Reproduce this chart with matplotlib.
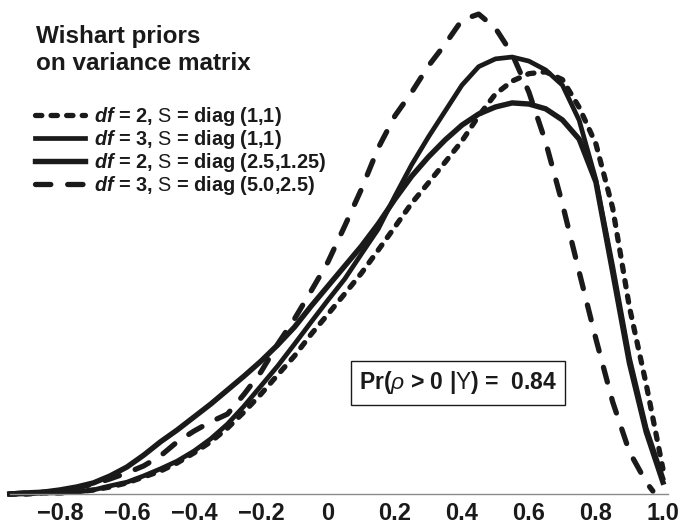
import numpy as np
import matplotlib
matplotlib.use("Agg")
import matplotlib.pyplot as plt

## posterior density of rho under 4 Wishart priors

plt.rcParams['font.family'] = 'Liberation Sans'
plt.rcParams['mathtext.fontset'] = 'custom'
plt.rcParams['mathtext.rm'] = 'Liberation Sans'
plt.rcParams['mathtext.it'] = 'Liberation Sans:italic'
plt.rcParams['mathtext.bf'] = 'Liberation Sans:bold'
plt.rcParams['mathtext.bfit'] = 'Liberation Sans:bold:italic'

rho = np.linspace(-0.95, 1.0, 40)
rho_d = np.append(rho[:-1], 0.97)

dens_df2_s1 = [0, 0, 0.003, 0.003, 0.005, 0.011, 0.019, 0.030, 0.046, 0.062,
               0.084, 0.111, 0.141, 0.178, 0.222, 0.270, 0.322, 0.373, 0.432, 0.486,
               0.541, 0.597, 0.659, 0.722, 0.786, 0.841, 0.897, 0.954, 1.022, 1.081,
               1.116, 1.136, 1.141, 1.120, 1.045, 0.946, 0.773, 0.505, 0.297, 0.068]
dens_df3_s1 = [0, 0, 0.003, 0.003, 0.005, 0.011, 0.022, 0.032, 0.049, 0.068,
               0.089, 0.116, 0.149, 0.189, 0.238, 0.292, 0.346, 0.405, 0.465, 0.524,
               0.581, 0.649, 0.716, 0.805, 0.890, 0.965, 1.035, 1.105, 1.155, 1.176,
               1.181, 1.170, 1.146, 1.105, 1.010, 0.849, 0.616, 0.368, 0.178, 0.043]
dens_df2_s25 = [0.000, 0.003, 0.005, 0.011, 0.019, 0.030, 0.049, 0.073, 0.105, 0.141,
                0.173, 0.208, 0.243, 0.281, 0.319, 0.359, 0.403, 0.451, 0.508, 0.562,
                0.616, 0.670, 0.730, 0.797, 0.859, 0.911, 0.957, 0.997, 1.027, 1.046,
                1.057, 1.054, 1.041, 1.011, 0.959, 0.843, 0.600, 0.354, 0.168, 0.032]
dens_df3_s5 = [0.000, 0.003, 0.005, 0.008, 0.016, 0.027, 0.041, 0.057, 0.076, 0.103,
               0.141, 0.170, 0.195, 0.216, 0.270, 0.330, 0.405, 0.473, 0.549, 0.627,
               0.724, 0.824, 0.935, 1.022, 1.086, 1.157, 1.216, 1.281, 1.297, 1.259,
               1.189, 1.086, 0.951, 0.784, 0.600, 0.419, 0.249, 0.114, 0.032, 0.008]

labels = [r"$\mathbfit{df}$ = 2, $\mathrm{S}$ = diag (1,1)",
          r"$\mathbfit{df}$ = 3, $\mathrm{S}$ = diag (1,1)",
          r"$\mathbfit{df}$ = 2, $\mathrm{S}$ = diag (2.5,1.25)",
          r"$\mathbfit{df}$ = 3, $\mathrm{S}$ = diag (5.0,2.5)"]
tick_vals = [-0.8, -0.6, -0.4, -0.2, 0, 0.2, 0.4, 0.6, 0.8, 1.0]
tick_labels = ["\u22120.8", "\u22120.6", "\u22120.4", "\u22120.2", "0", "0.2", "0.4", "0.6", "0.8", "1.0"]

fig = plt.figure(figsize=(6.8, 5.25), dpi=100)
ax = fig.add_axes([0, 25/525, 1, 500/525])

ink = '#1a1a1a'
l1, = ax.plot(rho, dens_df2_s1, color=ink, lw=3.8, dashes=(1.2, 1.75), dash_capstyle='round', label=labels[0])
l2, = ax.plot(rho, dens_df3_s1, color=ink, lw=3.4, label=labels[1])
l3, = ax.plot(rho, dens_df2_s25, color=ink, lw=3.9, label=labels[2])
l4, = ax.plot(rho_d, dens_df3_s5, color=ink, lw=3.8, dashes=(2.9, 3.2), dash_capstyle='round', label=labels[3])

ax.set_xlim(-0.979, 1.051)
ax.set_ylim(-6/370, 494/370)

for s in ['left', 'top', 'right']:
    ax.spines[s].set_visible(False)
ax.spines['bottom'].set_position(('data', 0))
ax.spines['bottom'].set_bounds(-0.95, 1.015)
ax.spines['bottom'].set_color('#8a8a8a')
ax.spines['bottom'].set_linewidth(1.0)
ax.set_yticks([])
ax.set_xticks(tick_vals)
ax.set_xticklabels(tick_labels, fontsize=17, fontweight='bold', color=ink)
ax.tick_params(axis='x', length=0, pad=6)
ax.patch.set_visible(False)

fig.text(36/680, 1 - 25/525, "Wishart priors\non variance matrix", fontsize=17.5,
         fontweight='bold', color=ink, va='top', ha='left', linespacing=1.2)

leg = ax.legend(handles=[l1, l2, l3, l4], loc='upper left', bbox_to_anchor=(35/680, 1 - 105/525),
                bbox_transform=fig.transFigure, frameon=False, prop={'weight': 'bold', 'size': 14.3},
                handlelength=2.5, handletextpad=0.45, labelspacing=0.0, borderpad=0, borderaxespad=0)
for t in leg.get_texts():
    t.set_color(ink)

ax.text(0.388, 0.30, r"Pr($\rho$ > 0 |$\mathrm{Y}$) =  0.84", fontsize=16.5, fontweight='bold',
        color=ink, ha='center', va='center',
        bbox=dict(boxstyle='square,pad=0.35', fc='white', ec=ink, lw=1.0))

plt.savefig("out.png", dpi=100)
